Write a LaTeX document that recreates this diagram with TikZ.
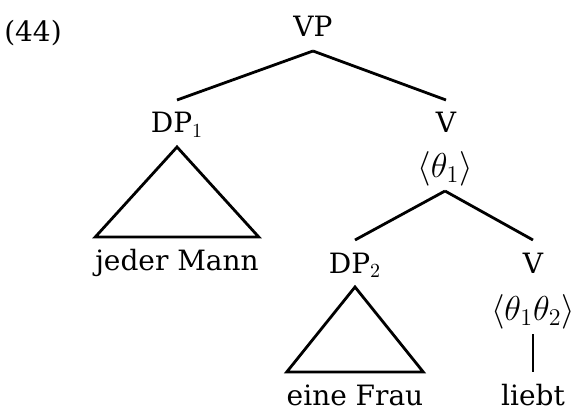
\documentclass[tikz,border=0pt]{standalone}
\usepackage{fontspec}
\setmainfont{DejaVu Serif}
\begin{document}
\begin{tikzpicture}[x=0.5pt, y=-0.5pt, font=\fontsize{14}{17}\selectfont, every node/.style={anchor=base, inner xsep=0pt, inner ysep=6pt, text height=10.5pt, text depth=1pt, outer sep=0pt}, theta/.style={font=\fontsize{16.5}{20}\selectfont}, line width=1.4pt, line join=miter]
	\useasboundingbox (0, 0) rectangle (576, 411);
	
	% Beispielnummer
	\node (num) at (33, 42) {(44)};
	
	% VP mit DP1 und V
	\node (vp) at (313, 37) {VP};
	\node (dp1) at (177, 133) {DP$_1$};
	\node (v1) at (446, 133) {V};
	\node[theta] (th1) at (445, 177) {$\langle\theta_1\rangle$};
	\node (jm) at (177, 270) {jeder Mann};
	\draw (vp.south) -- (dp1.north);
	\draw (vp.south) -- (v1.north);
	\draw (dp1.south) -- (jm.north west) -- (jm.north east) -- cycle;
	
	% unteres V mit DP2 und V
	\node (dp2) at (355, 273) {DP$_2$};
	\node (v2) at (533, 273) {V};
	\node[theta] (th12) at (533, 320) {$\langle\theta_1\theta_2\rangle$};
	\node (ef) at (355, 405) {eine Frau};
	\node (lb) at (533, 405) {liebt};
	\draw (th1.south) -- (dp2.north);
	\draw (th1.south) -- (v2.north);
	\draw (dp2.south) -- (ef.north west) -- (ef.north east) -- cycle;
	\draw (th12.south) -- (lb.north);
\end{tikzpicture}
\end{document}
